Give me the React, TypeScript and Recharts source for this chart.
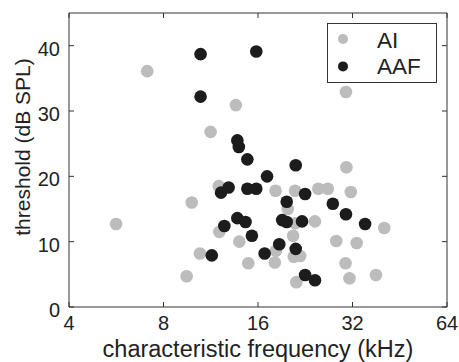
import { ScatterChart, Scatter, XAxis, YAxis, Legend } from "recharts";

const FONT = "'Liberation Sans', Arial, Helvetica, sans-serif";
const AI_COLOR = "#bcbcbc";
const AAF_COLOR = "#1c1c1c";
const AXIS_COLOR = "#333";
const TEXT_COLOR = "#222";

// characteristic frequency (kHz) and threshold (dB SPL)
const aiFreq = [7.1, 13.6, 11.3, 30.5, 30.6, 5.65, 9.84, 12.0, 12.05, 13.95, 10.45, 14.9, 9.48, 18.2, 21.0, 24.9, 26.7, 31.6, 19.9, 24.3, 21.0, 40.4, 20.7, 28.4, 33.0, 18.25, 20.8, 21.8, 18.1, 30.4, 21.2, 31.3, 38.0];
const aiThresh = [36.1, 30.9, 26.8, 32.9, 21.4, 12.7, 16.0, 18.5, 11.5, 10.0, 8.2, 6.7, 4.7, 17.8, 17.8, 18.1, 18.1, 17.6, 15.0, 13.1, 12.8, 12.1, 10.9, 10.1, 9.8, 8.6, 7.7, 7.8, 6.8, 6.7, 3.8, 4.4, 4.9];

const aafFreq = [10.5, 15.8, 10.5, 13.75, 13.9, 14.8, 21.1, 17.1, 12.2, 12.9, 14.8, 15.8, 22.6, 19.75, 27.7, 30.5, 13.75, 14.6, 12.5, 15.3, 11.4, 19.1, 19.75, 22.1, 35.1, 18.7, 16.8, 21.1, 22.6, 24.3];
const aafThresh = [38.7, 39.1, 32.2, 25.5, 24.5, 22.6, 21.7, 20.0, 17.5, 18.3, 18.1, 18.1, 17.3, 16.1, 15.8, 14.2, 13.6, 13.0, 12.4, 10.9, 7.9, 13.3, 13.0, 13.1, 12.7, 9.6, 8.2, 8.9, 4.9, 4.1];

const xTicks = [4, 8, 16, 32, 64];
const yTicks = [0, 10, 20, 30, 40];

const seriesNames = ["AI", "AAF"];

const aiData = aiFreq.map((f, i) => ({ f, t: aiThresh[i] }));
const aafData = aafFreq.map((f, i) => ({ f, t: aafThresh[i] }));

const dot = (color: string) => (p: any) => (
  <circle cx={p.cx} cy={p.cy} r={6.3} fill={color} />
);

const XTick = ({ x, y, payload }: any) => (
  <text x={x} y={y + 14.5} textAnchor="middle" fontSize={20} fill={TEXT_COLOR} fontFamily={FONT}>
    {payload.value}
  </text>
);

const YTick = ({ x, y, payload }: any) => (
  <text x={x} y={y + 10} textAnchor="end" fontSize={20} fill={TEXT_COLOR} fontFamily={FONT}>
    {payload.value}
  </text>
);

const LegendBox = () => (
  <div style={{ width: 108, height: 58, border: `1px solid ${AXIS_COLOR}`, background: "#fff" }}>
    <svg width={108} height={58}>
      {seriesNames.map((name, i) => (
        <g key={name}>
          <circle cx={15} cy={15 + i * 27.4} r={5} fill={i === 0 ? AI_COLOR : AAF_COLOR} />
          <text x={49} y={23.5 + i * 26} fontSize={22.5} fill={TEXT_COLOR} fontFamily={FONT}>
            {name}
          </text>
        </g>
      ))}
    </svg>
  </div>
);

export default function App() {
  return (
    <div style={{ position: "absolute", left: 0, top: 0, background: "#fff" }}>
      <ScatterChart width={459} height={362} margin={{ top: 2, right: 1, bottom: 0, left: 0 }}>
        <XAxis
          xAxisId="b"
          type="number"
          dataKey="f"
          scale="log"
          domain={[4, 64]}
          ticks={xTicks}
          allowDataOverflow
          height={55}
          stroke={AXIS_COLOR}
          tickSize={-5}
          tickMargin={13}
          tick={<XTick />}
          label={{
            value: "characteristic frequency (kHz)",
            position: "insideBottom",
            offset: 5,
            fontSize: 23.5,
            fill: TEXT_COLOR,
            fontFamily: FONT,
          }}
        />
        {/* top and right axes only close the frame, with inward ticks */}
        <XAxis
          xAxisId="t"
          orientation="top"
          type="number"
          dataKey="f"
          scale="log"
          domain={[4, 64]}
          ticks={xTicks}
          height={11}
          stroke={AXIS_COLOR}
          tickSize={-5}
          tickFormatter={() => ""}
        />
        <YAxis
          yAxisId="l"
          type="number"
          dataKey="t"
          domain={[0, 45]}
          ticks={yTicks}
          allowDataOverflow
          width={69}
          stroke={AXIS_COLOR}
          tickSize={-5}
          tickMargin={14}
          tick={<YTick />}
          label={{
            value: "threshold (dB SPL)",
            angle: -90,
            position: "insideLeft",
            offset: 22.5,
            dy: -13,
            fontSize: 21,
            fill: TEXT_COLOR,
            fontFamily: FONT,
            style: { textAnchor: "middle" },
          }}
        />
        <YAxis
          yAxisId="r"
          orientation="right"
          type="number"
          dataKey="t"
          domain={[0, 45]}
          ticks={yTicks}
          width={11}
          stroke={AXIS_COLOR}
          tickSize={-5}
          tickFormatter={() => ""}
        />
        <Scatter
          data={aiData}
          xAxisId="t"
          yAxisId="r"
          shape={() => <g />}
          legendType="none"
          isAnimationActive={false}
        />
        <Scatter
          name="AI"
          data={aiData}
          xAxisId="b"
          yAxisId="l"
          shape={dot(AI_COLOR)}
          isAnimationActive={false}
        />
        <Scatter
          name="AAF"
          data={aafData}
          xAxisId="b"
          yAxisId="l"
          shape={dot(AAF_COLOR)}
          isAnimationActive={false}
        />
        <Legend
          layout="vertical"
          align="center"
          verticalAlign="middle"
          wrapperStyle={{ left: 327, top: 23, width: 110, height: 60 }}
          content={<LegendBox />}
        />
      </ScatterChart>
    </div>
  );
}
